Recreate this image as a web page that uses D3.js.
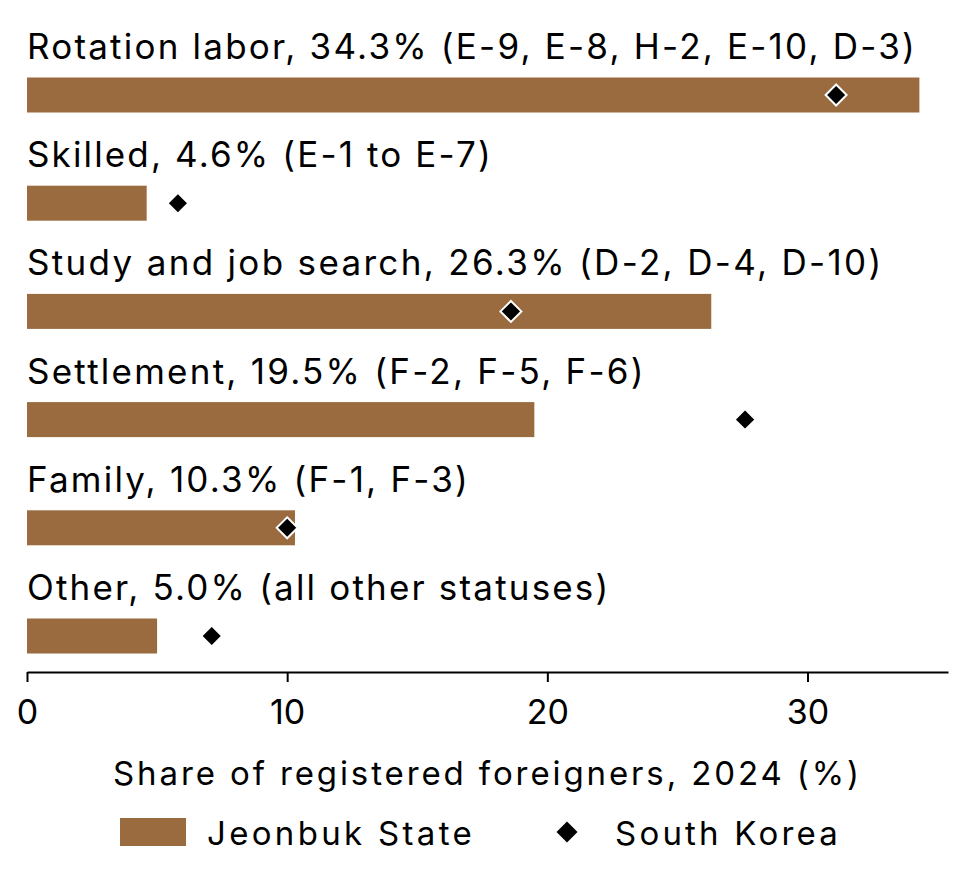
<!DOCTYPE html>
<html><head><meta charset="utf-8">
<script src="https://cdn.jsdelivr.net/npm/d3@7"></script>
<style>body{margin:0;background:#fff}svg{font-family:Inter,sans-serif}</style>
</head><body><svg id="c" width="962" height="870"></svg>
<script>
const categories = ["Rotation labor, 34.3% (E-9, E-8, H-2, E-10, D-3)","Skilled, 4.6% (E-1 to E-7)","Study and job search, 26.3% (D-2, D-4, D-10)","Settlement, 19.5% (F-2, F-5, F-6)","Family, 10.3% (F-1, F-3)","Other, 5.0% (all other statuses)"];
const jeonbuk = [34.3,4.6,26.3,19.5,10.3,5.0];
const korea = [31.1,5.8,18.6,27.6,10.0,7.1];
const ticks = [0,10,20,30];
const svg = d3.select("#c");
const x = d3.scaleLinear().domain([0,35.4]).range([27,948]);
const cy = i => 95 + i*108.2;
const col = "#9a6b3f";
function spread(sel, factor){
  sel.each(function(){
    const w = this.getComputedTextLength();
    const n = this.textContent.length;
    d3.select(this).attr("letter-spacing", (w*factor - w)/n);
  });
}
categories.forEach((c,i)=>{
  const t = svg.append("text").attr("class","lbl").attr("x",27).attr("y",cy(i)-36).attr("font-size",35).attr("fill","#000").text(c);
  spread(t, 890/ (0) || 1);
});
// measure first label to calibrate
const first = svg.select(".lbl").node();
const f = 890 / first.getComputedTextLength();
svg.selectAll(".lbl").call(s=>spread(s,f));
categories.forEach((c,i)=>{
  svg.append("rect").attr("x",x(0)).attr("y",cy(i)-17.5).attr("width",x(jeonbuk[i])-x(0)).attr("height",35).attr("fill",col);
});
const sym = d3.symbol().type(d3.symbolDiamond2).size(280);
korea.forEach((v,i)=>{
  svg.append("path").attr("d",sym).attr("transform",`translate(${x(v)},${cy(i)})`).attr("fill","#000").attr("stroke","#fff").attr("stroke-width",2);
});
const ax = svg.append("g").attr("transform","translate(0,672)").call(d3.axisBottom(x).tickValues(ticks).tickSize(10).tickSizeOuter(0));
ax.select(".domain").attr("stroke","#000").attr("stroke-width",2);
ax.selectAll(".tick line").attr("stroke","#000").attr("stroke-width",2);
ax.selectAll(".tick text").attr("font-size",34).attr("font-family","Inter,sans-serif").attr("dy","1.15em").attr("fill","#000");
const at = svg.append("text").attr("x",113).attr("y",785).attr("font-size",33).text("Share of registered foreigners, 2024 (%)");
spread(at, 749/at.node().getComputedTextLength());
svg.append("rect").attr("x",120).attr("y",818).attr("width",66).attr("height",28).attr("fill",col);
const l1 = svg.append("text").attr("x",207).attr("y",845).attr("font-size",33).text("Jeonbuk State");
spread(l1, 268/l1.node().getComputedTextLength());
svg.append("path").attr("d",sym).attr("transform","translate(567,832)").attr("fill","#000");
const l2 = svg.append("text").attr("x",615).attr("y",845).attr("font-size",33).text("South Korea");
spread(l2, 226/l2.node().getComputedTextLength());
</script></body></html>
